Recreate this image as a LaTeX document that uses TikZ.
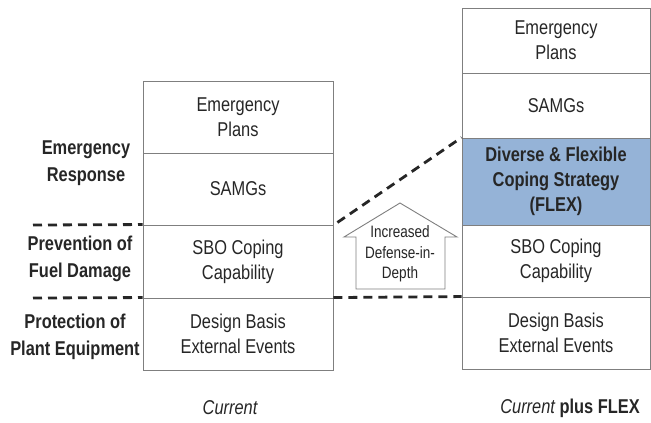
\documentclass[tikz,border=0pt]{standalone}
\usepackage{fontspec}
\setmainfont{Liberation Sans}[FakeStretch=0.82]
\usetikzlibrary{calc}
\definecolor{txt}{HTML}{262626}
\definecolor{edge}{HTML}{7F7F7F}
\definecolor{flexblue}{HTML}{95B3D7}
\tikzset{
  cell/.style={draw=edge, line width=0.9pt, inner sep=0pt, align=center,
    text=txt, font=\fontsize{20}{25}\selectfont},
  leftcell/.style={cell, minimum width=190pt},
  rightcell/.style={cell, minimum width=188pt},
  flexcell/.style={rightcell, fill=flexblue, font=\fontsize{20}{25}\selectfont\bfseries},
  level/.style={align=center, text=txt, font=\fontsize{20}{27}\selectfont\bfseries},
  divider/.style={dashed, line width=2.8pt, dash pattern=on 9pt off 6pt, black!85},
  caption/.style={text=txt, font=\fontsize{20}{24}\selectfont},
}
\begin{document}
\begin{tikzpicture}[x=1pt, y=-1pt]
\useasboundingbox (0,0) rectangle (651,423);

% Current defence layers
\node[leftcell, minimum height=72pt] (l1) at (238,117) {Emergency\\Plans};
\node[leftcell, minimum height=72pt] (l2) at (238,189) {SAMGs};
\node[leftcell, minimum height=73pt] (l3) at (238,261.5) {SBO Coping\\Capability};
\node[leftcell, minimum height=72pt] (l4) at (238,334) {Design Basis\\External Events};

% Layers with FLEX added
\node[rightcell, minimum height=65pt] (r1) at (556,40.5) {Emergency\\Plans};
\node[rightcell, minimum height=65pt] (r2) at (556,105.5) {SAMGs};
\node[flexcell, minimum height=87pt] (flex) at (556,181.5) {Diverse \& Flexible\\Coping Strategy\\(FLEX)};
\node[rightcell, minimum height=72pt] (r4) at (556,261) {SBO Coping\\Capability};
\node[rightcell, minimum height=72pt] (r5) at (556,333) {Design Basis\\External Events};

% Level labels
\node[level] (er) at (86,163.5) {Emergency\\Response};
\node[level] (pf) at (80,258.5) {Prevention of\\Fuel Damage};
\node[level] (pp) at (75,336.5) {Protection of\\Plant Equipment};

% Level dividers
\coordinate (d1) at (33,225);
\coordinate (d2) at (33,298);
\draw[divider] (d1) -- (l3.north west);
\draw[divider] (d2) -- (l4.north west);
\draw[divider] ($(l2.south east)+(4,-3)$) -- (flex.north west);
\draw[divider] (l4.north east) -- (r5.north west);

% Block arrow
\draw[edge, line width=0.9pt, fill=white]
  (400,203) -- (457,237) -- (445,237) -- (445,289) -- (356,289)
  -- (356,237) -- (344,237) -- cycle;
\node[align=center, text=txt, font=\fontsize{16.5}{20.5}\selectfont] (did) at (400,254)
  {Increased\\Defense-in-\\Depth};

% Column captions
\node[caption] (cur) at (230,408) {\itshape Current};
\node[caption] (curflex) at (570,408) {\itshape Current\upshape\ \bfseries plus FLEX};
\end{tikzpicture}
\end{document}
